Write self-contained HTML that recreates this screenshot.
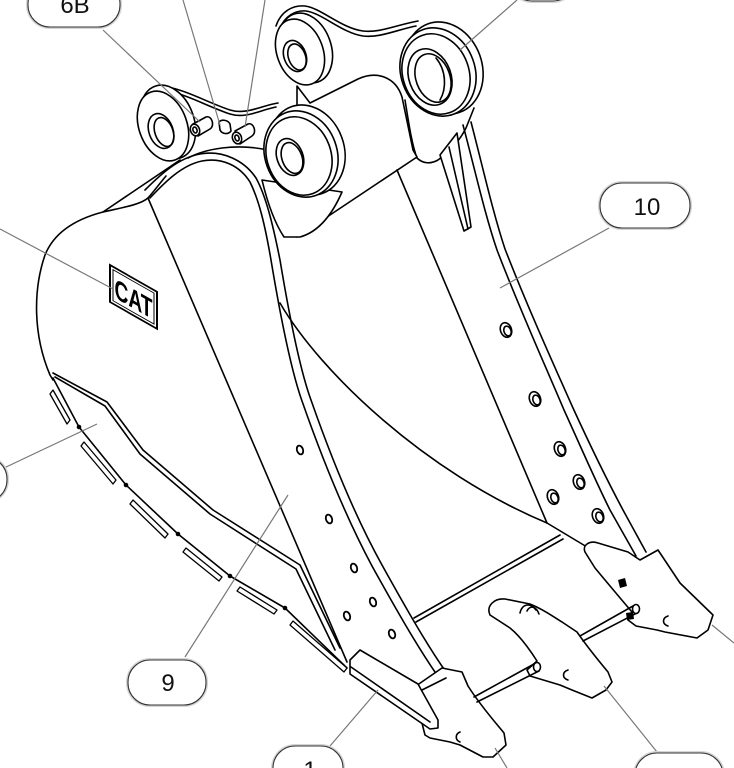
<!DOCTYPE html>
<html><head><meta charset="utf-8"><style>
html,body{margin:0;padding:0;background:#fff;width:734px;height:768px;overflow:hidden}
svg{display:block}
</style></head><body>
<svg width="734" height="768" viewBox="0 0 734 768" xmlns="http://www.w3.org/2000/svg">
<rect width="734" height="768" fill="#fff"/>
<g fill="none" stroke="#000" stroke-width="1.6" stroke-linejoin="round" stroke-linecap="round">

<!-- rear plate top -->
<path d="M276,26 C281,11 293,5 305,6 C321,8 341,28 363,31 C380,33 396,25 418,21"/>
<path d="M279,30 C285,15 296,10 306,11 C322,13 342,33 363,36 C380,38 396,30 416,26"/>
<!-- rear plate under big boss -->
<path fill="#fff" d="M405,100 C409,125 412,145 417,158 C423,164 431,164 438,160 C449,152 459,142 466,128 L474,108"/>

<!-- rear left boss -->
<ellipse cx="306" cy="48" rx="25" ry="36" transform="rotate(-20 306 48)" fill="#fff"/>
<ellipse cx="300" cy="52" rx="23" ry="34" transform="rotate(-20 300 52)" fill="#fff"/>
<ellipse cx="295" cy="56" rx="11" ry="16" transform="rotate(-20 295 56)"/>
<ellipse cx="297" cy="57" rx="8.5" ry="13.5" transform="rotate(-20 297 57)"/>

<!-- central block -->
<path fill="#fff" d="M297,86 L310,103 L358,79 C378,70 396,78 402,97 L413,150 L417,157 L297,237 Z"/>

<!-- big rear boss -->
<ellipse cx="444" cy="68" rx="38" ry="47" transform="rotate(-20 444 68)" fill="#fff"/>
<ellipse cx="438" cy="72" rx="37" ry="45" transform="rotate(-20 438 72)" fill="#fff"/>
<ellipse cx="436" cy="74" rx="33" ry="41" transform="rotate(-20 436 74)"/>
<ellipse cx="430" cy="77" rx="21" ry="29" transform="rotate(-20 430 77)"/>
<ellipse cx="433" cy="78" rx="17" ry="25" transform="rotate(-20 433 78)"/>
<path d="M436,58 C446,70 447,88 440,100"/>

<!-- right rib -->
<path d="M397,170 L547,523"/>
<path d="M463,125 C475,170 485,215 497,250 C520,310 545,365 564,410 C580,445 595,480 610,510 L636,556"/>
<path d="M471,122 C483,168 493,213 505,249 C528,308 553,363 573,408 C589,443 607,480 623,510 L646,552"/>
<path fill="#fff" d="M440,155 L457,133 L471,227 L464,231 Z"/>
<path d="M449,147 L468,229"/>
<g>
<ellipse cx="506" cy="330" rx="5.5" ry="7.5" transform="rotate(-20 506 330)"/><ellipse cx="507.5" cy="331" rx="3.5" ry="5" transform="rotate(-20 507.5 331)"/>
<ellipse cx="535" cy="399" rx="5.5" ry="7.5" transform="rotate(-20 535 399)"/><ellipse cx="536.5" cy="400" rx="3.5" ry="5" transform="rotate(-20 536.5 400)"/>
<ellipse cx="560" cy="449" rx="5.5" ry="7.5" transform="rotate(-20 560 449)"/><ellipse cx="561.5" cy="450" rx="3.5" ry="5" transform="rotate(-20 561.5 450)"/>
<ellipse cx="579" cy="482" rx="5.5" ry="7.5" transform="rotate(-20 579 482)"/><ellipse cx="580.5" cy="483" rx="3.5" ry="5" transform="rotate(-20 580.5 483)"/>
<ellipse cx="553" cy="497" rx="5.5" ry="7.5" transform="rotate(-20 553 497)"/><ellipse cx="554.5" cy="498" rx="3.5" ry="5" transform="rotate(-20 554.5 498)"/>
<ellipse cx="598" cy="516" rx="5.5" ry="7.5" transform="rotate(-20 598 516)"/><ellipse cx="599.5" cy="517" rx="3.5" ry="5" transform="rotate(-20 599.5 517)"/>
</g>

<!-- bucket inner lines -->
<path d="M280,303 C320,372 425,472 547,523"/>
<path d="M547,523 L587,547"/>
<path d="M414,618 L560,535"/>
<path d="M416,622 L563,539"/>

<!-- front plate -->
<path d="M150,89 C170,80 200,100 230,110 C246,115 260,106 278,103"/>
<path d="M152,93 C172,85 200,104 230,114 C246,119 260,110 276,107"/>
<path d="M188,158 C205,149 235,143 268,150"/>
<path fill="#fff" d="M262,180 C268,205 276,225 284,237 L300,237 C318,232 332,215 342,192 Z"/>

<!-- front left boss -->
<ellipse cx="168" cy="122" rx="26" ry="38" transform="rotate(-20 168 122)" fill="#fff"/>
<ellipse cx="163" cy="126" rx="24" ry="36" transform="rotate(-20 163 126)" fill="#fff"/>
<ellipse cx="161" cy="131" rx="12" ry="18" transform="rotate(-20 161 131)"/>
<ellipse cx="164" cy="132" rx="9" ry="15" transform="rotate(-20 164 132)"/>

<!-- front right boss -->
<ellipse cx="307" cy="150" rx="37" ry="46" transform="rotate(-20 307 150)" fill="#fff"/>
<ellipse cx="301" cy="154" rx="36" ry="44" transform="rotate(-20 301 154)" fill="#fff"/>
<ellipse cx="299" cy="156" rx="32" ry="40" transform="rotate(-20 299 156)"/>
<ellipse cx="290" cy="157" rx="13" ry="19" transform="rotate(-20 290 157)"/>
<ellipse cx="292" cy="158" rx="10" ry="16" transform="rotate(-20 292 158)"/>

<!-- pins -->
<path fill="#fff" d="M193,124 L206,117 C212,115 215,126 210,129 L198,136 Z"/>
<ellipse cx="195" cy="130" rx="4.5" ry="6" transform="rotate(-20 195 130)" fill="#fff"/>
<ellipse cx="195" cy="130" rx="2" ry="3" transform="rotate(-20 195 130)"/>
<path fill="#fff" d="M219,122 C222,119 228,120 230,124 L231,131 C228,135 222,134 220,130 Z"/>
<path fill="#fff" d="M235,131 L248,124 C254,122 257,133 252,136 L240,144 Z"/>
<ellipse cx="237" cy="138" rx="4.5" ry="6" transform="rotate(-20 237 138)" fill="#fff"/>
<ellipse cx="237" cy="138" rx="2" ry="3" transform="rotate(-20 237 138)"/>

<!-- left side plate -->
<path d="M180,160 L103,212 C80,218 55,230 45,255 C33,290 33,335 50,375 L53,380"/>
<path d="M103,212 C120,208 140,205 148,198 C155,190 160,183 166,176"/>

<!-- left rib (9) -->
<path d="M145,190 C160,175 178,158 200,154 C222,150 244,160 256,178 C266,196 273,225 280,260 C290,320 300,370 311,400 C332,460 357,520 382,565 C407,610 427,645 446,672"/>
<path d="M150,198 C165,182 182,165 202,161 C222,157 240,166 250,182 C259,200 265,225 271,260 C281,320 291,370 302,401 C323,461 348,521 372,566 C397,611 417,646 437,675"/>
<path d="M148,198 L347,662"/>
<g stroke-width="1.8">
<ellipse cx="300" cy="450" rx="3" ry="4.5" transform="rotate(-20 300 450)"/>
<ellipse cx="329" cy="519" rx="3" ry="4.5" transform="rotate(-20 329 519)"/>
<ellipse cx="354" cy="568" rx="3" ry="4.5" transform="rotate(-20 354 568)"/>
<ellipse cx="373" cy="602" rx="3" ry="4.5" transform="rotate(-20 373 602)"/>
<ellipse cx="347" cy="616" rx="3" ry="4.5" transform="rotate(-20 347 616)"/>
<ellipse cx="392" cy="634" rx="3" ry="4.5" transform="rotate(-20 392 634)"/>
</g>

<!-- side chamfer double line -->
<path d="M53,373 L107,402 L143,450 L213,510 L300,565 L340,648"/>
<path d="M55,377 L105,406 L140,454 L210,514 L296,569 L335,650"/>

<!-- side edge with strips -->
<path d="M53,378 L79,427 L126,485 L178,534 L230,576 L285,608 L347,668"/>
<g fill="#fff" stroke-width="1.3">
<path d="M53,390 L70,420 L67,424 L50,394 Z"/>
<path d="M84,442 L116,480 L113,484 L81,446 Z"/>
<path d="M133,500 L168,534 L165,538 L130,504 Z"/>
<path d="M186,548 L222,577 L219,581 L183,552 Z"/>
<path d="M240,587 L277,610 L274,614 L237,591 Z"/>
<path d="M293,621 L347,668 L344,672 L290,625 Z"/>
</g>
<g fill="#000" stroke="none">
<circle cx="79" cy="427" r="2.3"/><circle cx="126" cy="485" r="2.3"/><circle cx="178" cy="534" r="2.3"/>
<circle cx="230" cy="576" r="2.3"/><circle cx="285" cy="608" r="2.3"/>
</g>

<!-- left tooth -->
<path fill="#fff" d="M413,688 L442,668 L462,672 L468,686 C480,705 495,722 504,733 L506,745 L493,757 L483,757 L460,745 L450,742 L430,738 L425,735 Z"/>
<path d="M420,691 L446,678"/>
<path d="M460,732 C455,734 455,740 460,742"/>
<!-- side cutter -->
<path fill="#fff" d="M350,660 L360,650 L418,684 L438,720 L438,728 L430,729 L350,674 Z"/>
<path d="M351,667 L430,722"/>

<!-- middle tooth -->
<path fill="#fff" d="M490,615 C486,606 494,598 505,599 L530,604 C545,610 555,618 562,622 L577,632 C588,648 598,660 608,672 L612,682 L606,690 L592,698 L572,690 L560,685 L530,676 L527,670 L537,661 C530,650 520,636 510,628 Z"/>
<path d="M520,613 C522,604 530,602 536,610"/>
<path d="M527,611 C530,605 536,606 539,614"/>
<path d="M568,670 C562,672 562,678 568,680"/>

<!-- right tooth -->
<path fill="#fff" d="M585,552 C582,545 590,540 598,543 L628,552 L640,560 L658,550 L680,583 L713,615 L708,630 L697,638 L665,632 L657,630 L636,626 L628,620 L632,612 C620,598 605,580 595,568 Z"/>
<path d="M668,616 C662,618 662,624 668,626"/>
<g fill="#000" stroke="none">
<path d="M618,580 L625,578 L627,586 L620,588 Z"/>
<path d="M626,613 L633,612 L634,619 L627,620 Z"/>
</g>

<!-- rods -->
<path d="M474,697 L534,664"/>
<path d="M477,702 L539,671"/>
<ellipse cx="537" cy="667" rx="3.5" ry="4.5" fill="#fff"/>
<path d="M580,636 L633,606"/>
<path d="M583,641 L637,613"/>
<ellipse cx="636" cy="609" rx="3.5" ry="4.5" fill="#fff"/>
</g>

<!-- CAT logo -->
<g transform="translate(110,265) matrix(1,0.57,0,1,0,0)">
<rect x="0" y="0" width="47" height="37" fill="#fff" stroke="#000" stroke-width="2"/>
<rect x="3" y="3" width="41" height="31" fill="none" stroke="#000" stroke-width="1"/>
<text x="23.5" y="30" font-family="Liberation Sans, sans-serif" font-weight="bold" font-size="28" text-anchor="middle" textLength="38" lengthAdjust="spacingAndGlyphs" fill="#000">CAT</text>
</g>

<!-- leaders -->
<g stroke="#777" stroke-width="1.2" fill="none">
<path d="M103,30 L200,122"/>
<path d="M183,0 L220,125"/>
<path d="M265,0 L245,127"/>
<path d="M517,0 L460,50"/>
<path d="M609,228 L500,288"/>
<path d="M0,229 L113,289"/>
<path d="M4,468 L97,424"/>
<path d="M185,657 L288,495"/>
<path d="M330,746 L378,690"/>
<path d="M495,748 L507,768"/>
<path d="M657,752 L604,686"/>
<path d="M712,625 L734,643"/>
</g>

<!-- bubbles -->
<g font-family="Liberation Sans, sans-serif" font-size="24" text-anchor="middle" fill="#111">
<rect x="28" y="-18" width="92" height="45" rx="22" fill="#fff" stroke="#d4d4d4" stroke-width="4"/>
<rect x="28" y="-18" width="92" height="45" rx="22" fill="#fff" stroke="#333" stroke-width="1.1"/>
<text x="75" y="13">6B</text>

<rect x="510" y="-44" width="65" height="45" rx="22" fill="#fff" stroke="#d4d4d4" stroke-width="4"/>
<rect x="510" y="-44" width="65" height="45" rx="22" fill="#fff" stroke="#333" stroke-width="1.1"/>

<rect x="600" y="183" width="90" height="45" rx="22" fill="#fff" stroke="#d4d4d4" stroke-width="4"/>
<rect x="600" y="183" width="90" height="45" rx="22" fill="#fff" stroke="#333" stroke-width="1.1"/>
<text x="647" y="215">10</text>

<rect x="-80" y="457" width="87" height="45" rx="22" fill="#fff" stroke="#d4d4d4" stroke-width="4"/>
<rect x="-80" y="457" width="87" height="45" rx="22" fill="#fff" stroke="#333" stroke-width="1.1"/>

<rect x="128" y="660" width="78" height="45" rx="22" fill="#fff" stroke="#d4d4d4" stroke-width="4"/>
<rect x="128" y="660" width="78" height="45" rx="22" fill="#fff" stroke="#333" stroke-width="1.1"/>
<text x="168" y="691">9</text>

<rect x="273" y="746" width="70" height="45" rx="22" fill="#fff" stroke="#d4d4d4" stroke-width="4"/>
<rect x="273" y="746" width="70" height="45" rx="22" fill="#fff" stroke="#333" stroke-width="1.1"/>
<text x="310" y="778">1</text>

<rect x="635" y="753" width="88" height="45" rx="22" fill="#fff" stroke="#d4d4d4" stroke-width="4"/>
<rect x="635" y="753" width="88" height="45" rx="22" fill="#fff" stroke="#333" stroke-width="1.1"/>
<text x="679" y="785">11</text>
</g>
</svg>
</body></html>
